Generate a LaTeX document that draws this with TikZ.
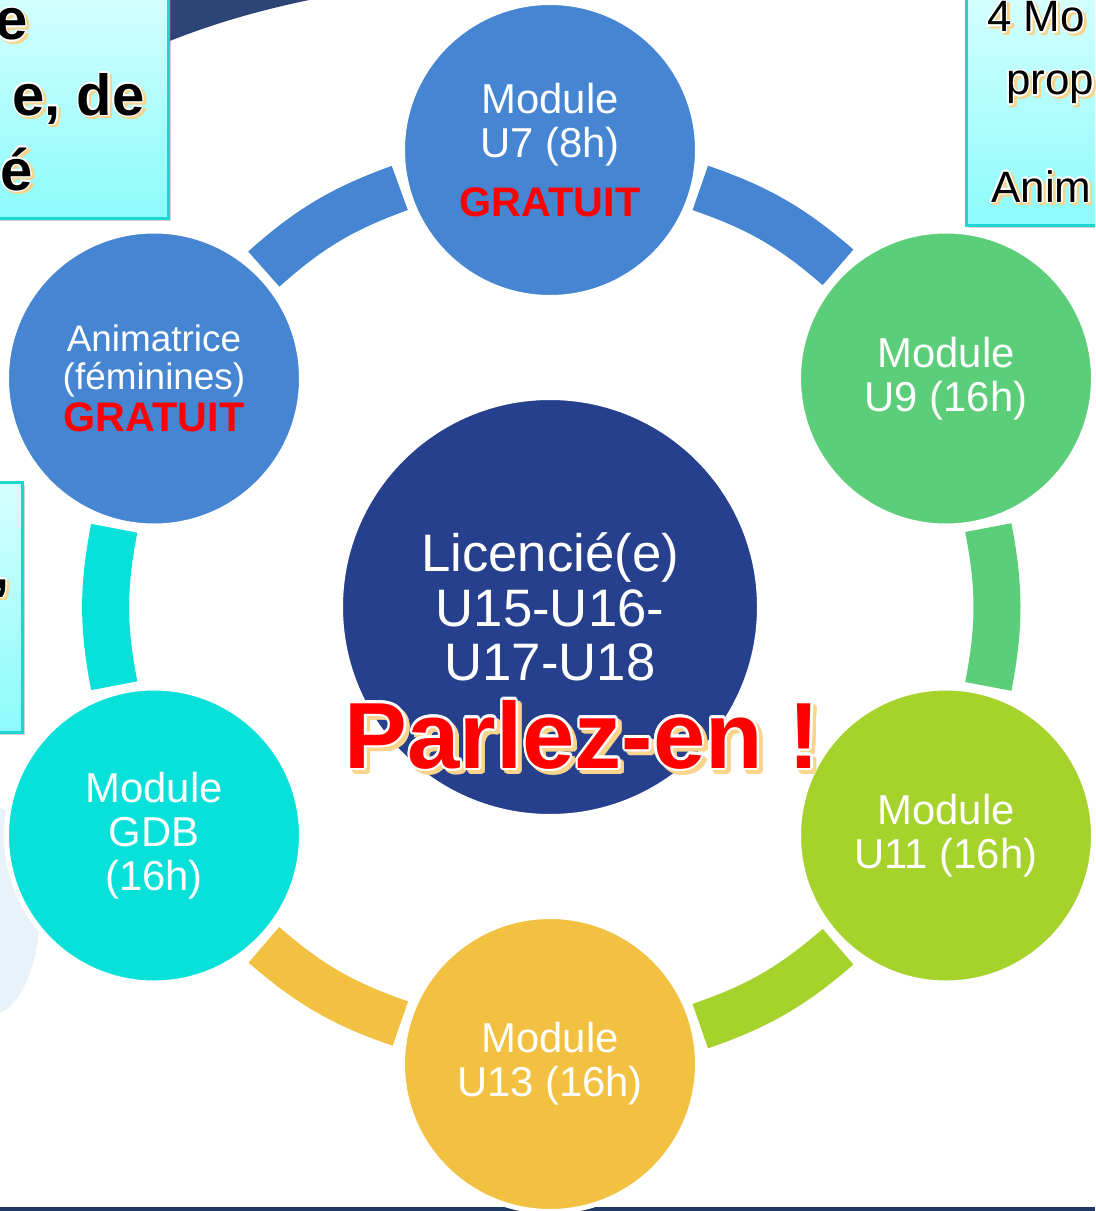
\documentclass[tikz,border=0pt]{standalone}
\usepackage{fontspec}
\setmainfont{Liberation Sans}
\usepackage{tikz}
\usetikzlibrary{backgrounds, shadows}
\usetikzlibrary{positioning}
\usepackage{xcolor}
\usepackage{contour}
\definecolor{cblue}{HTML}{4685D2}
\definecolor{cgreen}{HTML}{5CCE79}
\definecolor{clime}{HTML}{A6D22C}
\definecolor{cyellow}{HTML}{F3C142}
\definecolor{ccyan}{HTML}{08E0DA}
\definecolor{cnavy}{HTML}{27408E}
\definecolor{topnavy}{HTML}{2C4476}
\definecolor{linenavy}{HTML}{1F3864}
\definecolor{gratred}{HTML}{FF0000}
\definecolor{boxtop}{HTML}{D6FFFF}
\definecolor{boxbot}{HTML}{8CFBFB}
\definecolor{boxline}{HTML}{1CD6CF}
\definecolor{shadebeige}{HTML}{F8D48C}
\definecolor{paleblue}{HTML}{EAF2F9}
\newcommand{\modfont}{\fontsize{23.8}{25}\selectfont}
\newcommand{\animfont}{\fontsize{21}{21.6}\selectfont}
\newcommand{\gratfont}{\fontsize{23.5}{24}\selectfont\bfseries}
\newcommand{\licfont}{\fontsize{30}{31.2}\selectfont}
\newcommand{\parlezfont}{\fontsize{53.5}{56}\selectfont\bfseries}
\newcommand{\boxfont}{\fontsize{33}{36}\selectfont\bfseries}
\newcommand{\boxrfont}{\fontsize{25}{28}\selectfont}
\newcommand{\fancytxt}[3]{{\contourlength{#1}%
	\makebox[0pt][l]{\hspace*{#2}\raisebox{-#2}{\contour{shadebeige}{\color{shadebeige}#3}}}%
	\contour{white}{#3}}}

\begin{document}
\begin{tikzpicture}[every node/.style={font=\modfont},
		modc/.style={circle, draw=white, line width=0.1cm, minimum size=5.9cm, inner sep=0pt, text=white, align=center},
		ring/.style={draw=#1, line width=0.94cm, shorten <=0.1cm, shorten >=0.1cm},
		infobox/.style={draw=boxline, line width=0.06cm, top color=boxtop, bottom color=boxbot, drop shadow={shadow xshift=0.06cm, shadow yshift=-0.06cm, opacity=0.35}},
		boxtxt/.style={inner sep=0pt, text=black}]
		\useasboundingbox (0,0) rectangle (21.9,-24.22);
		\clip (0,0) rectangle (21.9,-24.22);
		
		\node[modc, fill=cnavy, minimum size=8.38cm, font=\licfont] (lic) at (11,-12.14) {Licencié(e)\\U15-U16-\\U17-U18};
		\node[modc, fill=cblue] (u7) at (11,-3) {Module\\U7 (8h)\\[9pt]{\gratfont\color{gratred}GRATUIT}};
		\node[modc, fill=cgreen] (u9) at (18.92,-7.57) {Module\\U9 (16h)};
		\node[modc, fill=clime] (u11) at (18.92,-16.71) {Module\\U11 (16h)};
		\node[modc, fill=cyellow] (u13) at (11,-21.28) {Module\\U13 (16h)};
		\node[modc, fill=ccyan] (gdb) at (3.08,-16.71) {Module\\GDB\\(16h)};
		\node[modc, fill=cblue, font=\animfont] (anim) at (3.08,-7.57) {Animatrice\\(féminines)\\[2pt]{\gratfont\color{gratred}GRATUIT}};
		
		\node[inner sep=0pt, anchor=base, text=gratred, font=\parlezfont] (parlez) at (11.65,-15.36) {\fancytxt{1.3pt}{2.2pt}{Parlez-en !}};
		
		\draw[infobox] (-0.2,0.2) rectangle (3.36,-4.36);
		\node[boxtxt, anchor=base east, font=\boxfont] (tla) at (0.56,-0.8) {\fancytxt{0.8pt}{1.4pt}{e}};
		\node[boxtxt, anchor=base east, font=\boxfont] (tlb) at (2.9,-2.3) {\fancytxt{0.8pt}{1.4pt}{e, de}};
		\node[boxtxt, anchor=base east, font=\boxfont] (tlc) at (0.66,-3.8) {\fancytxt{0.8pt}{1.4pt}{é}};
		
		\draw[infobox] (19.32,0.2) rectangle (22.2,-4.5);
		\node[boxtxt, anchor=base west, font=\boxrfont] (tra) at (19.74,-0.64) {\fancytxt{0.8pt}{1.4pt}{4 Mo}};
		\node[boxtxt, anchor=base west, font=\boxrfont] (trb) at (20.12,-1.9) {\fancytxt{0.8pt}{1.4pt}{prop}};
		\node[boxtxt, anchor=base west, font=\boxrfont] (trc) at (19.82,-4.04) {\fancytxt{0.8pt}{1.4pt}{Anim}};
		
		\draw[infobox] (-0.2,-9.64) rectangle (0.44,-14.64);
		\node[boxtxt, anchor=base east, font=\boxfont] (mla) at (0.2,-11.76) {\fancytxt{0.8pt}{1.4pt}{,}};
		
		\begin{scope}[on background layer]
			\fill[paleblue] (-0.2,-18.2) ellipse (1.0 and 2.1);
			\fill[topnavy] (3.2,0.1) -- (3.2,-0.9) .. controls (4.4,-0.4) and (5.6,-0.1) .. (6.7,0.1) -- cycle;
			\draw[linenavy, line width=0.08cm] (0,-24.18) -- (21.9,-24.18);
			\draw[ring=cblue] (u7.-14.5) to[bend left=11] (u9.134.5);
			\draw[ring=cgreen] (u9.-74.5) to[bend left=11] (u11.74.5);
			\draw[ring=clime] (u11.-134.5) to[bend left=11] (u13.14.5);
			\draw[ring=cyellow] (u13.165.5) to[bend left=11] (gdb.-45.5);
			\draw[ring=ccyan] (gdb.105.5) to[bend left=11] (anim.-105.5);
			\draw[ring=cblue] (anim.45.5) to[bend left=11] (u7.194.5);
		\end{scope}
	\end{tikzpicture}
\end{document}
